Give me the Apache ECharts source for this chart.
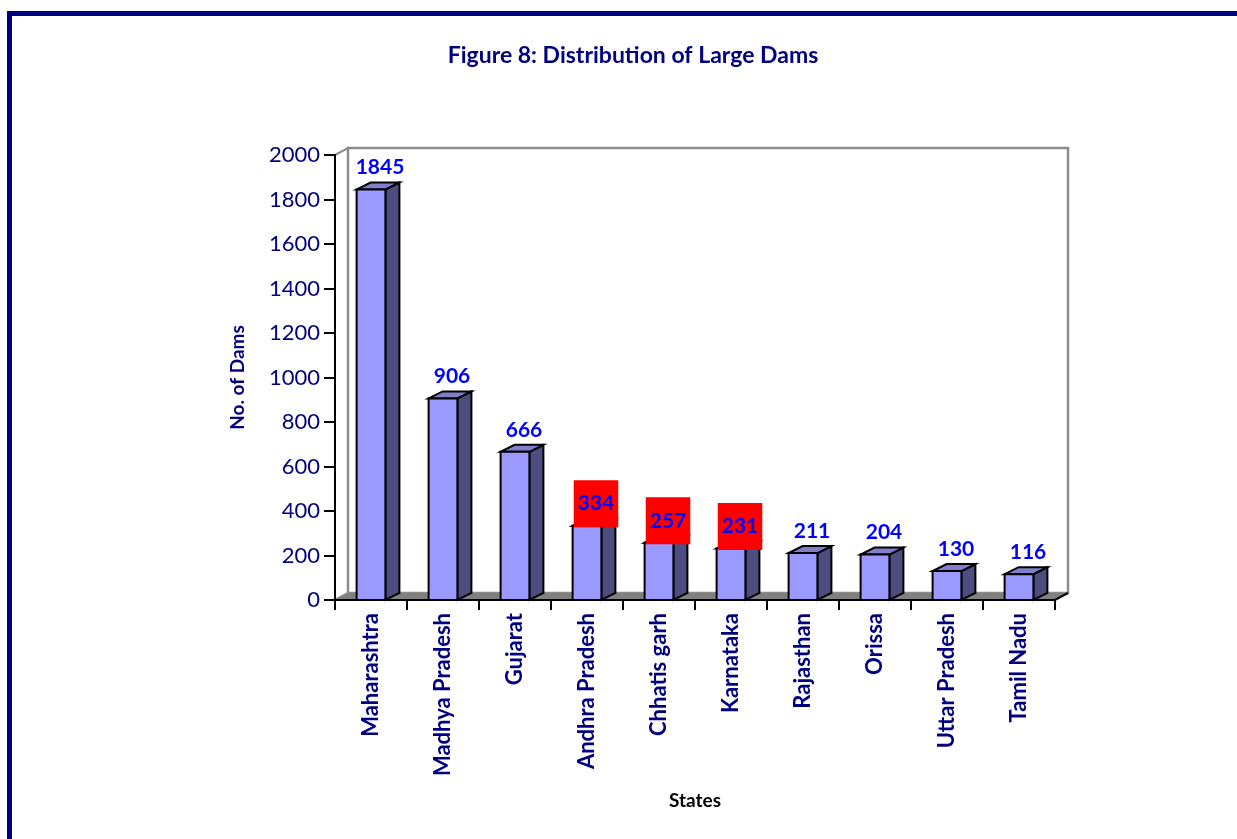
<!DOCTYPE html>
<html>
<head>
<meta charset="utf-8">
<script src="https://cdn.jsdelivr.net/npm/echarts@6/dist/echarts.min.js"></script>
<style>
html,body{margin:0;padding:0;background:#fff;}
#chart{width:1237px;height:839px;}
</style>
</head>
<body>
<div id="chart"></div>
<script>
const states = ['Maharashtra','Madhya Pradesh','Gujarat','Andhra Pradesh','Chhatis garh','Karnataka','Rajasthan','Orissa','Uttar Pradesh','Tamil Nadu'];
const dams = [1845, 906, 666, 334, 257, 231, 211, 204, 130, 116];
const boxedStates = ['Andhra Pradesh','Chhatis garh','Karnataka'];
const yTicks = [0, 200, 400, 600, 800, 1000, 1200, 1400, 1600, 1800, 2000];

const FONT = 'Lato';
const NAVY = '#000080';
const WALL_DX = 13, WALL_DY = -7;
const BAR_DX = 14, BAR_DY = -7;

const chart = echarts.init(document.getElementById('chart'), null, {renderer: 'canvas'});

function wallRender(params, api) {
  const cs = params.coordSys;
  const l = cs.x, r = cs.x + cs.width, t = cs.y, b = cs.y + cs.height;
  return {
    type: 'group',
    children: [
      {type: 'polygon', shape: {points: [[l, t], [l + WALL_DX, t + WALL_DY], [l + WALL_DX, b + WALL_DY], [l, b]]},
        style: {fill: '#fff', stroke: '#8c8c8c', lineWidth: 2}},
      {type: 'rect', shape: {x: l + WALL_DX, y: t + WALL_DY, width: cs.width, height: cs.height},
        style: {fill: '#fff', stroke: '#8c8c8c', lineWidth: 2.5}},
      {type: 'polygon', shape: {points: [[l, b], [r, b], [r + WALL_DX, b + WALL_DY], [l + WALL_DX, b + WALL_DY]]},
        style: {fill: '#808080', stroke: null}},
      {type: 'polyline', shape: {points: [[l, b], [r, b], [r + WALL_DX, b + WALL_DY]]},
        style: {fill: null, stroke: '#000', lineWidth: 2}}
    ]
  };
}

function barRender(params, api) {
  const idx = api.value(0);
  const v = api.value(1);
  const top = api.coord([idx, v]);
  const base = api.coord([idx, 0]);
  const bw = api.size([1, 0])[0] * 0.4;
  const xl = top[0] - bw / 2, xr = top[0] + bw / 2;
  const yt = top[1], yb = base[1];
  const stroke = {stroke: '#000', lineWidth: 2, lineJoin: 'miter'};
  const boxed = boxedStates.indexOf(states[idx]) >= 0;
  const labelStyle = {
    text: String(dams[idx]),
    x: top[0] + 9, y: yt - 22,
    align: 'center', verticalAlign: 'middle',
    fontFamily: FONT, fontWeight: 'bold', fontSize: 21,
    fill: '#0000FF'
  };
  if (boxed) {
    labelStyle.backgroundColor = '#FF0000';
    labelStyle.padding = [13, 4, 13, 4];
  }
  return {
    type: 'group',
    children: [
      {type: 'polygon', shape: {points: [[xr, yt], [xr + BAR_DX, yt + BAR_DY], [xr + BAR_DX, yb + BAR_DY], [xr, yb]]},
        style: Object.assign({fill: '#4D4D80'}, stroke)},
      {type: 'polygon', shape: {points: [[xl, yt], [xr, yt], [xr + BAR_DX, yt + BAR_DY], [xl + BAR_DX, yt + BAR_DY]]},
        style: Object.assign({fill: '#7F7FCC'}, stroke)},
      {type: 'rect', shape: {x: xl, y: yt, width: bw, height: yb - yt},
        style: Object.assign({fill: '#9999FF'}, stroke)},
      {type: 'text', style: labelStyle, z2: 10}
    ]
  };
}

chart.setOption({
  animation: false,
  backgroundColor: '#fff',
  title: {
    text: 'Figure 8: Distribution of Large Dams',
    left: 628, top: 39, textAlign: 'center',
    textStyle: {fontFamily: FONT, fontWeight: 'bold', fontSize: 23, color: NAVY}
  },
  graphic: [
    {type: 'rect', shape: {x: 9.5, y: 13.5, width: 3000, height: 3000},
      style: {fill: null, stroke: NAVY, lineWidth: 5}, z: 100}
  ],
  grid: {left: 335, top: 155, width: 720, height: 445},
  xAxis: {
    type: 'category',
    data: states,
    boundaryGap: true,
    axisLine: {show: true, lineStyle: {color: '#000', width: 2}},
    axisTick: {show: true, length: 10, lineStyle: {color: '#000', width: 2}},
    axisLabel: {rotate: 90, margin: 13, fontFamily: FONT, fontWeight: 'bold', fontSize: 22, color: NAVY, interval: 0},
    splitLine: {show: false},
    name: 'States', nameLocation: 'middle', nameGap: 191,
    nameTextStyle: {fontFamily: FONT, fontWeight: 'bold', fontSize: 19, color: '#000'}
  },
  yAxis: {
    type: 'value',
    min: 0, max: 2000, interval: 200,
    axisLine: {show: true, lineStyle: {color: '#000', width: 2}},
    axisTick: {show: true, length: 11, lineStyle: {color: '#000', width: 2}},
    axisLabel: {margin: 15, fontFamily: FONT, fontSize: 22, color: NAVY,
      formatter: function (val) { return yTicks.indexOf(val) >= 0 ? String(val) : ''; }},
    splitLine: {show: false},
    name: 'No. of Dams', nameLocation: 'middle', nameGap: 88, nameRotate: 90,
    nameTextStyle: {fontFamily: FONT, fontWeight: 'bold', fontSize: 19, color: NAVY}
  },
  series: [
    {type: 'custom', renderItem: wallRender, data: [[0, 0]], z: 0, silent: true, clip: false},
    {type: 'custom', renderItem: barRender, data: dams.map((d, i) => [i, d]), z: 3, clip: false}
  ]
});
</script>
</body>
</html>
